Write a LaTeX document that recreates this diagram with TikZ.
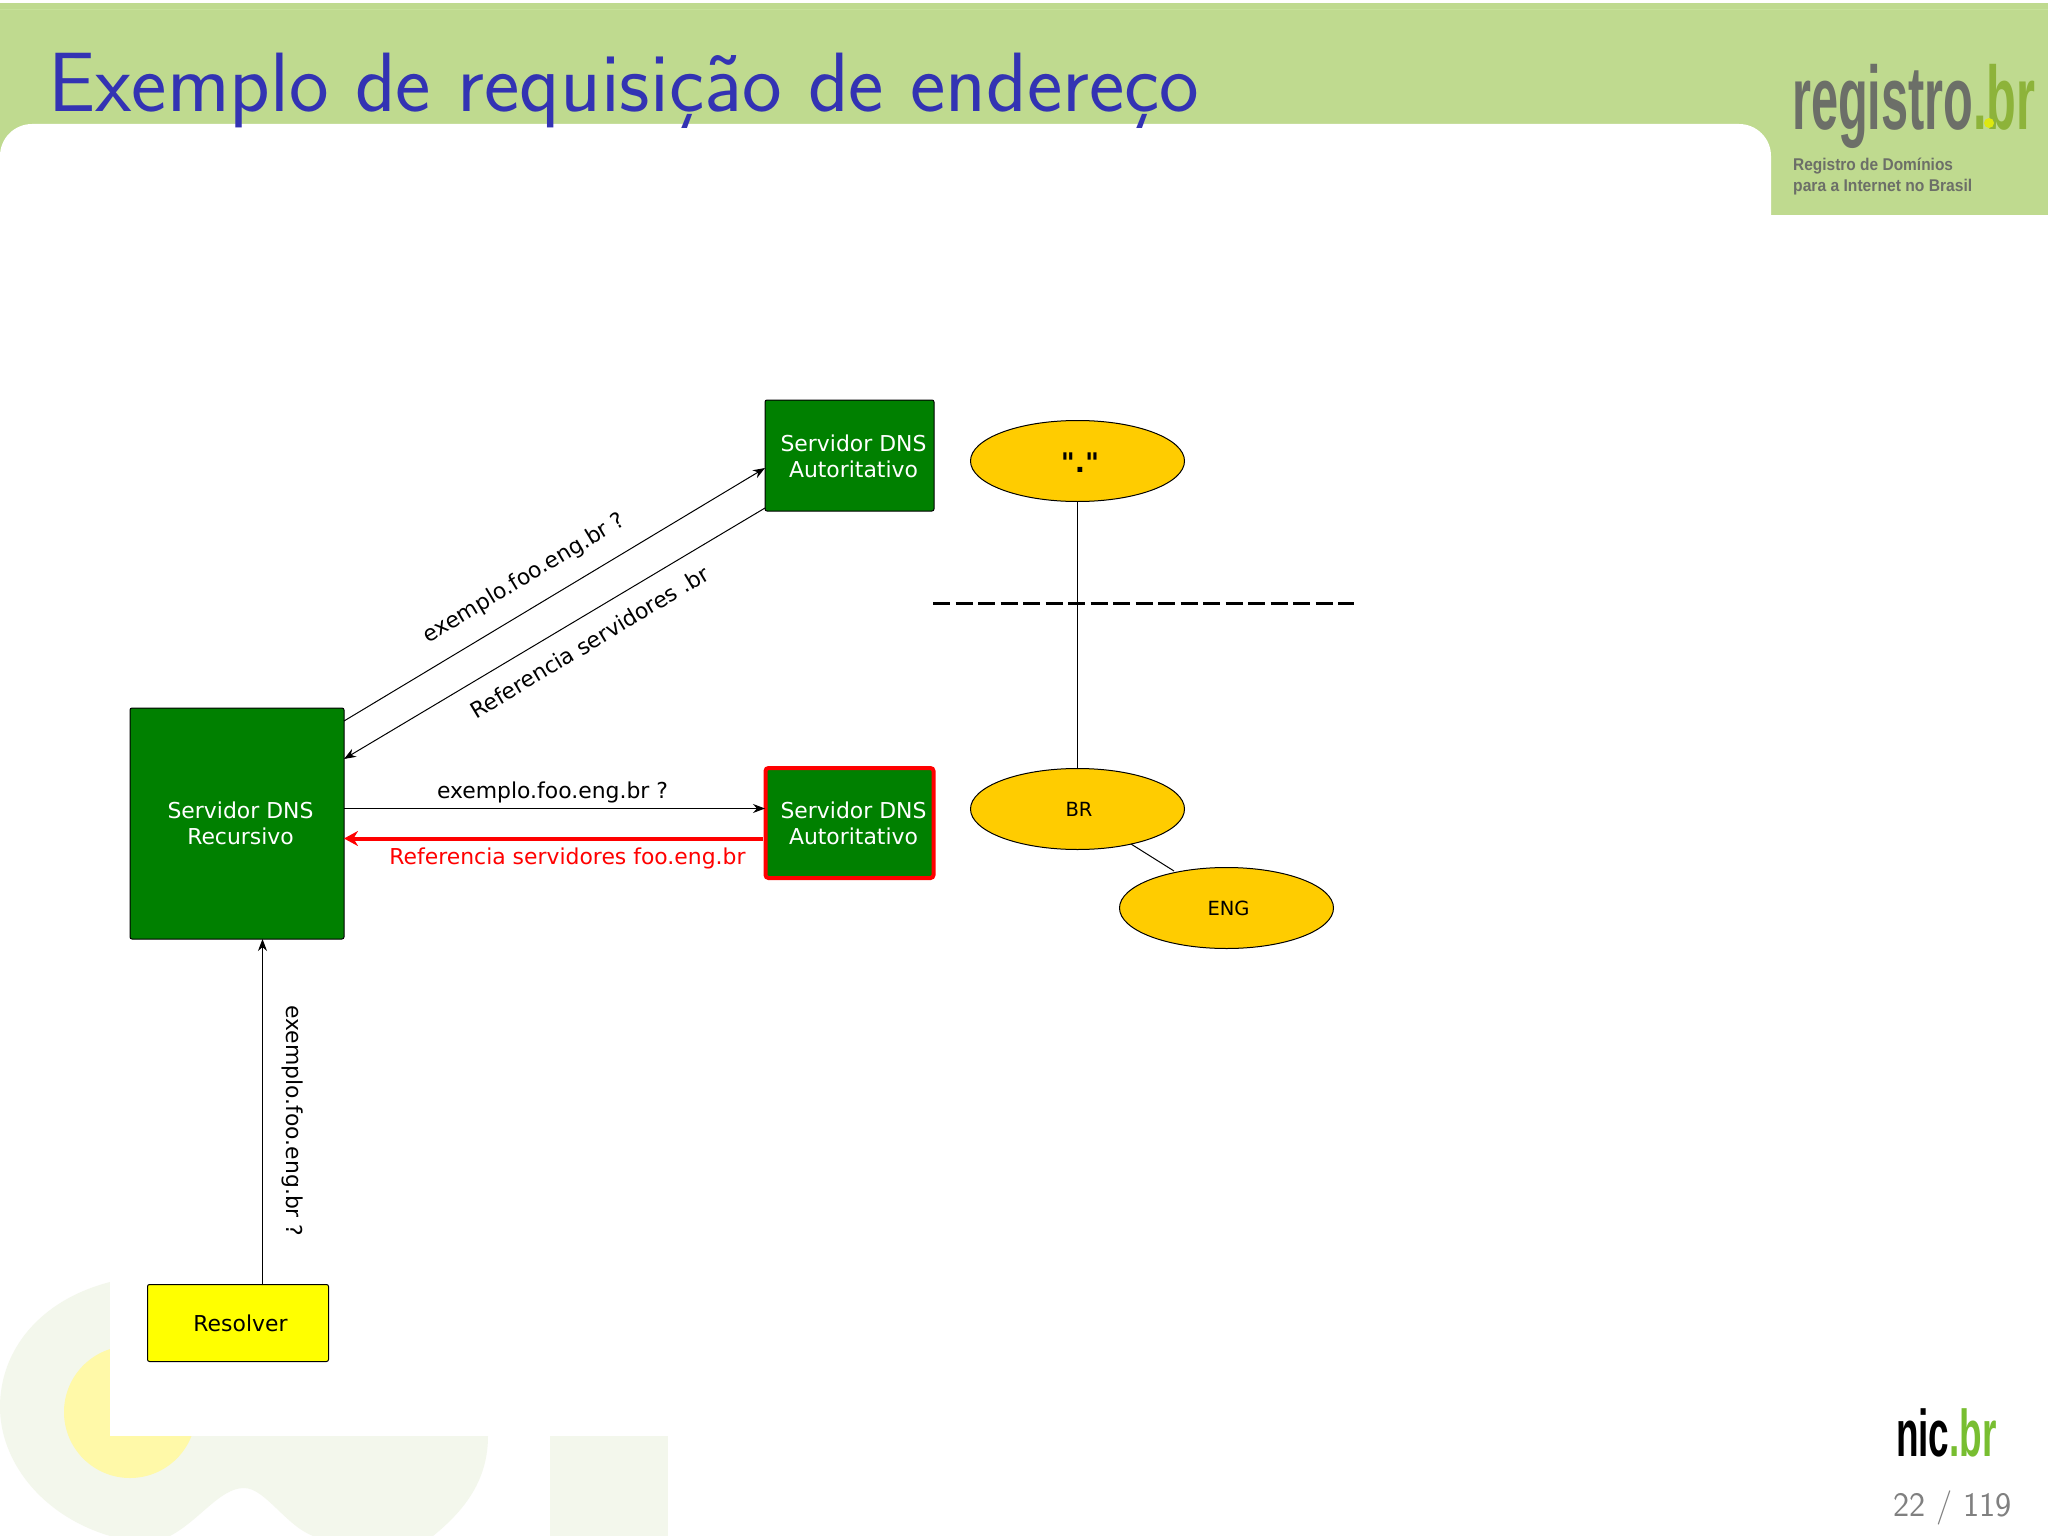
\documentclass[tikz,border=0pt]{standalone}
\usepackage{fontspec}
\usetikzlibrary{arrows.meta,shapes.geometric}
\newfontfamily\dv{DejaVu Sans}
\newfontfamily\lb{Liberation Sans}
\definecolor{hdr}{HTML}{BFDA8F}
\definecolor{hdrl}{HTML}{C6E29A}
\definecolor{ttl}{HTML}{3333B3}
\definecolor{pale}{HTML}{F3F7EC}
\definecolor{paley}{HTML}{FFF9A8}
\definecolor{dgreen}{HTML}{008000}
\definecolor{gold}{HTML}{FFCC00}
\definecolor{lgray}{HTML}{6C6F68}
\definecolor{lgreen}{HTML}{8DB33A}
\definecolor{pureyellow}{HTML}{FFFF00}
\definecolor{purered}{HTML}{FF0000}
\tikzset{
  box/.style={draw=black,fill=dgreen,rounded corners=2pt,line width=1pt,inner sep=0pt},
  elli/.style={draw=black,fill=gold,ellipse,line width=1pt,inner sep=0pt,minimum width=214pt,minimum height=81pt},
  lbl/.style={font=\dv\fontsize{21.9}{26}\selectfont,inner sep=0pt,align=center},
  wlbl/.style={lbl,text=white},
  arr/.style={line width=1pt,-{Stealth[length=12pt,width=9pt]}},
  plain/.style={line width=1pt}
}
\begin{document}
\begin{tikzpicture}[x=1pt,y=-1pt]
\useasboundingbox (0,0) rectangle (2048,1536);
\fill[white] (0,0) rectangle (2048,1536);
% watermark
\fill[pale] (110,1282) .. controls (40,1300) and (0,1350) .. (0,1407)
  .. controls (0,1460) and (40,1515) .. (110,1536) -- (170,1536)
  .. controls (200,1520) and (220,1488) .. (244,1488)
  .. controls (265,1488) and (285,1525) .. (313,1536) -- (433,1536)
  .. controls (465,1510) and (488,1480) .. (488,1436) -- (488,1400) -- (110,1400) -- cycle;
\fill[paley] (130,1412) ellipse [x radius=66, y radius=66];
\fill[pale] (550,1420) rectangle (668,1536);
\fill[white] (110,1270) rectangle (2048,1436);
% header
\fill[hdr] (0,3) rectangle (2048,215);
\fill[hdrl] (0,9) rectangle (2048,10);
\fill[white,rounded corners=32pt] (0,124) rectangle (1771,320);
\node[anchor=base west,inner sep=0pt,text=ttl,font=\sffamily\fontsize{84.2}{90}\selectfont] (title) at (48,111.5) {Exemplo de requisição de endereço};
% logos
\node[anchor=base west,inner sep=0pt,xscale=.541,font=\lb\bfseries\fontsize{90}{90}\selectfont] (reg) at (1792,130) {\textcolor{lgray}{registro}\textcolor{lgreen}{.br}};
\fill[pureyellow!70!lgreen] (1989,123) circle (5);
\node[anchor=base west,inner sep=0pt,xscale=.91,text=lgray,font=\lb\bfseries\fontsize{17}{20}\selectfont] (regb) at (1793,170) {Registro de Domínios};
\node[anchor=base west,inner sep=0pt,xscale=.92,text=lgray,font=\lb\bfseries\fontsize{17}{20}\selectfont] (regc) at (1793,191) {para a Internet no Brasil};
\node[anchor=base west,inner sep=0pt,xscale=.56,font=\lb\bfseries\fontsize{66}{66}\selectfont] (nic) at (1896,1456) {\textcolor{black}{nic}\textcolor{lgreen!85!green}{.br}};
\node[anchor=base east,inner sep=0pt,text=black!50,font=\sffamily\fontsize{34.3}{40}\selectfont] (page) at (2012,1516) {22 / 119};
% boxes
\node[box,minimum width=214pt,minimum height=231pt] (rec) at (237,823.5) {};
\node[box,minimum width=169pt,minimum height=111pt] (aut1) at (849.5,455.5) {};
\node[box,draw=purered,line width=4pt,minimum width=168pt,minimum height=110pt,rounded corners=3pt] (aut2) at (849.5,823) {};
\node[box,fill=pureyellow,minimum width=181pt,minimum height=77pt] (res) at (238,1323) {};
\node[wlbl] (trec) at (240.5,823) {Servidor DNS\\Recursivo};
\node[wlbl] (taut1) at (853.5,456) {Servidor DNS\\Autoritativo};
\node[wlbl] (taut2) at (853.5,823) {Servidor DNS\\Autoritativo};
\node[lbl] (tres) at (240.5,1323) {Resolver};
% ellipses
\node[elli] (root) at (1077.5,461) {};
\node[elli] (br) at (1077.5,809) {};
\node[elli] (eng) at (1226.5,908) {};
\node[lbl,font=\dv\bfseries\fontsize{27}{30}\selectfont] (troot) at (1080,463) {"."};
\node[lbl,font=\dv\fontsize{19.5}{24}\selectfont] (tbr) at (1079,809) {BR};
\node[lbl,font=\dv\fontsize{19.5}{24}\selectfont] (teng) at (1228.5,908) {ENG};
% connectors
\coordinate (a1) at (344,721); \coordinate (a2) at (765,468);
\coordinate (b1) at (765,508); \coordinate (b2) at (344,759);
\coordinate (c1) at (344,808.5); \coordinate (c2) at (765,808.5);
\coordinate (d1) at (763,838.5); \coordinate (d2) at (344,838.5);
\coordinate (e1) at (262.5,1285); \coordinate (e2) at (262.5,939);
\coordinate (f1) at (1131,844); \coordinate (f2) at (1174,871);
\coordinate (g1) at (933,603); \coordinate (g2) at (1354,603);
\draw[arr] (a1) -- (a2);
\draw[arr] (b1) -- (b2);
\draw[arr] (c1) -- (c2);
\draw[purered,line width=4pt,-{Stealth[length=14pt,width=15pt]}] (d1) -- (d2);
\draw[arr] (e1) -- (e2);
\draw[plain] (root.south) -- (br.north);
\draw[plain] (f1) -- (f2);
\draw[line width=3pt,dash pattern=on 17pt off 5.5pt] (g1) -- (g2);
% labels
\node[lbl,rotate=31] (l1) at (524.5,578.5) {exemplo.foo.eng.br ?};
\node[lbl,rotate=31] (l2) at (589.5,642) {Referencia servidores .br};
\node[lbl] (l3) at (552.5,792) {exemplo.foo.eng.br ?};
\node[lbl,text=purered] (l4) at (567.5,858.5) {Referencia servidores foo.eng.br};
\node[lbl,rotate=-90] (l5) at (292.5,1121) {exemplo.foo.eng.br ?};
\end{tikzpicture}
\end{document}
